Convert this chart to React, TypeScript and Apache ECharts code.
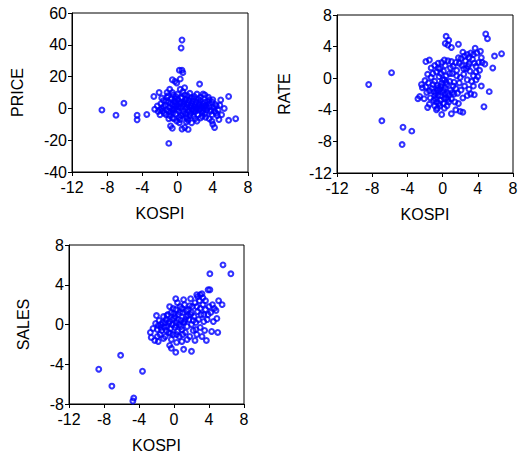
import React, { useEffect, useRef } from "react";
import * as echarts from "echarts";

const xTicks = [-12, -8, -4, 0, 4, 8];

const pricePoints: number[][] = [
  [-8.6, -1], [-7.0, -4.3], [-6.1, 3.3], [-4.6, -4.3], [-4.6, -7.2], [-3.5, -3.8],
  [0.5, 43], [0.4, 38], [0.2, 24], [0.5, 24], [0.6, 22.5], [0.3, 18.5], [-0.3, 17], [-0.6, 18], [-0.1, 16],
  [2.5, 15.3], [-1.0, -22], [6.6, -6.5], [5.8, -7.5], [5.8, 7.5], [4.9, 5.3], [4.2, -12], [4.0, -10],
  [4.7, -7], [5.3, 0], [-2.7, 7.5], [-2.6, -0.5], [-2.0, -4], [-2.1, 10], [-0.8, -11], [-0.6, -12.5],
  [0.5, -13], [1.2, -13.2], [0.8, -12],
  [0.8, 13], [-0.9, 12], [-1.2, 10], [-0.5, 8.5], [1.1, 8], [2.2, 9], [2.9, 9], [3.1, 8.5], [3.5, 7],
  [3.9, 4], [4.4, 1.5], [4.6, -1], [4.3, 2.5], [5.0, -4], [3.6, -6.5], [3.9, -8], [2.8, -5], [2.2, -8],
  [1.6, -9], [1.0, -8.5], [0.2, -9], [-0.6, -6], [-1.0, -6.5], [-1.3, -4], [-1.7, -1.5], [-1.9, 3],
  [-2.3, 1.5], [-1.6, 5], [-1.2, 7], [-0.3, 6],
  [-1.4, 2], [-1.2, -1], [-1.0, 4], [-0.9, 0.5], [-0.8, -2.5], [-0.7, 6], [-0.6, 2.5], [-0.5, -1],
  [-0.4, 4.5], [-0.3, 0], [-0.2, -3.5], [-0.1, 2], [0, 5.5], [0.1, -1.5], [0.2, 3], [0.3, 0.5],
  [0.4, -4.5], [0.5, 6.5], [0.6, 1.5], [0.7, -2], [0.8, 4], [0.9, 0], [1.0, -5.5], [1.1, 2.5],
  [1.2, -1], [1.3, 5], [1.4, 0.5], [1.5, -3], [1.6, 3], [1.7, -0.5], [1.8, 6], [1.9, 1], [2.0, -2],
  [2.1, 4], [2.2, 0], [2.3, -4], [2.4, 2], [2.5, -1], [2.6, 5], [2.7, 1], [2.8, -2.5], [2.9, 3],
  [3.0, 0], [3.1, -3.5], [3.2, 2], [3.3, -1], [3.4, 4.5], [3.6, 1], [3.7, -2], [3.9, -4], [4.1, 0.5],
  [4.4, -3], [-1.5, -3], [-0.9, -4.5], [-0.4, -6.5], [0.3, -7], [1.1, -6.5], [1.8, -5], [2.6, -6],
  [3.2, -5.5], [-1.8, 0], [-2.2, -2], [-1.1, 8], [0.0, 9], [0.6, 10.5], [1.4, 9.5], [1.9, 7.5],
  [2.6, 7], [-0.2, 7.5], [0.4, 7], [1.0, 6], [1.6, 1.5], [0.9, -3.5], [0.1, 1], [-0.6, -0.5],
  [0.5, 3.5], [1.3, -2], [2.1, -0.8], [2.9, -1.5], [3.6, 3], [4.0, 5.5], [4.8, 2],
  [-1.3, 4.5], [-0.8, 3], [-0.4, 1.5], [0, -0.5], [0.3, 4], [0.7, 2.8], [1.0, 0.8], [1.2, 3.5],
  [1.5, 1.8], [1.8, -1.5], [2.0, 2.5], [2.3, 1], [2.6, -0.3], [3.0, 1.5], [3.3, 0.5], [0.6, -3.5],
  [1.4, -4.5], [-0.5, -2.5], [-1.0, -1.8], [-0.2, 3.8], [0.9, 5.3], [1.7, 4.5], [2.4, 3.5], [3.1, 3.8],
  [3.8, -1], [4.2, -1.8], [4.5, -4.5], [-1.6, 1], [-2.0, -0.8], [0.2, -5.5], [1.2, -7.5], [2.0, -6.5],
  [-0.1, -8], [0.8, 8.5], [-0.6, 10], [0.3, 12], [1.6, 6.8], [2.4, 5.8], [3.6, 5.5], [-1.8, 6.5],
];

const ratePoints: number[][] = [
  [-8.4, -0.8], [-5.8, 0.7], [-6.9, -5.4], [-4.5, -6.2], [-3.5, -6.7], [-4.6, -8.4],
  [0.4, 5.3], [0.7, 4.8], [0.3, 4.4], [0.6, 4.2], [1.0, 3.9], [1.8, 4.3], [4.9, 5.6], [5.1, 5.0],
  [6.7, 3.1], [5.9, 2.8], [5.7, 1.3], [5.3, -1.7], [4.7, -3.6], [4.4, -1.0], [-0.1, -4.6], [1.0, -4.5],
  [2.0, -4.2], [2.3, -4.3], [1.5, -4.0], [-1.7, -3.7], [-2.6, -2.3], [-2.3, -1.2], [-1.9, 2.1],
  [-1.5, 2.3], [-0.6, -3.8], [-0.3, -3.5], [-0.7, -4.0],
  [2.3, 3.3], [2.8, 3.0], [3.2, 3.2], [3.5, 3.0], [3.7, 3.8], [3.9, 3.2], [4.3, 3.4], [4.1, 2.0],
  [4.5, 2.0], [4.8, 1.8], [2.1, 2.5], [2.6, 2.2], [3.0, 1.8], [3.4, 2.4], [3.8, 1.5], [4.2, 1.0],
  [3.8, 0.8], [2.2, 1.6], [2.7, 1.2], [3.1, 0.9], [3.5, 0.3], [1.5, 2.0], [1.9, 1.9], [1.2, 1.5],
  [1.6, 1.0], [2.4, 0.5], [2.0, 0.1], [2.8, -0.2], [3.3, -0.4], [3.8, -0.2], [1.0, 2.1], [0.6, 2.2],
  [0.2, 2.3], [-0.1, 2.0], [-0.5, 1.9], [-0.9, 1.6], [-1.3, 1.3], [-0.7, 0.8], [-0.2, 0.6], [0.4, 0.3],
  [1.1, 0.6], [1.6, 0.3], [2.5, -1.0], [3.0, -1.4], [3.6, -2.1], [3.2, -2.0], [2.3, -2.5], [2.8, -2.2],
  [1.7, -1.9],
  [-2.4, -0.8], [-2.0, -0.3], [-1.8, -1.8], [-1.6, -0.6], [-1.4, -2.5], [-1.3, 0.1], [-1.2, -1.3],
  [-1.0, -2.8], [-0.9, -0.4], [-0.8, -1.9], [-0.7, -3.0], [-0.6, -0.9], [-0.5, -2.2], [-0.4, 0.2],
  [-0.3, -1.4], [-0.2, -2.8], [-0.1, -0.6], [0, -1.8], [0.1, -3.2], [0.2, -0.2], [0.3, -1.2],
  [0.4, -2.5], [0.5, -0.8], [0.6, -1.9], [0.7, -3.0], [0.8, -0.4], [0.9, -1.5], [1.0, -2.6],
  [1.2, -1.0], [1.3, -2.0], [1.4, -3.0], [-2.1, -2.6], [-1.5, -3.3], [-0.9, -3.5], [0.2, -3.8],
  [0.6, -2.7], [1.8, -3.2], [-1.1, 0.6], [-0.3, 1.2], [0.1, 0.9], [-2.8, -2.6], [-1.9, -1.1],
  [-0.6, -1.5], [0.3, -2.0], [-0.2, -1.0], [-1.0, -1.7], [0.8, 0.6], [1.5, -1.3],
  [-0.5, -1.2], [-0.2, -2.2], [0.1, -1.5], [0.4, -0.5], [0.7, -2.2], [-0.8, -2.6], [-1.1, -0.8],
  [-0.4, -3.2], [0.5, -3.5], [1.1, -1.8], [0.0, -0.2], [-1.5, -1.6], [-0.9, -2.2], [0.2, -2.6],
  [2.5, 2.8], [3.0, 2.6], [2.9, 1.5], [3.6, 1.9], [4.4, 2.6], [2.4, 1.2], [1.8, 2.6], [0.9, 1.3],
  [0.3, 1.6], [-0.5, 1.3], [1.3, -0.5], [2.1, -1.5], [1.9, -0.6], [3.5, -1.0], [4.0, 0.2], [-1.7, 0.5],
];

const salesPoints: number[][] = [
  [-8.6, -4.5], [-7.1, -6.2], [-6.1, -3.1], [-4.6, -7.4], [-4.7, -7.7], [-3.6, -4.7],
  [5.6, 6.0], [6.5, 5.1], [4.1, 5.1], [5.1, 2.4], [5.5, 2.0], [3.9, 3.5], [4.1, 3.5], [3.2, 3.1],
  [3.0, 3.0], [2.6, 3.0], [4.3, -0.7], [5.0, -0.8], [3.7, -1.6], [2.0, -2.7], [1.1, -2.5], [0.2, -2.8],
  [-0.3, -2.4], [-0.5, -2.1], [0.9, -1.7], [-2.7, -0.8], [-2.0, 0.9], [-1.8, -1.7], [0.2, 2.6],
  [-2.6, -1.3], [-2.2, -1.6],
  [-2.1, 0.1], [-1.9, -0.5], [-1.7, 0.4], [-1.6, -1.0], [-1.5, 0.0], [-1.4, -0.6], [-1.2, 0.8],
  [-1.1, -0.3], [-1.0, -1.2], [-0.9, 0.5], [-0.8, -0.2], [-0.7, 1.0], [-0.6, -0.8], [-0.5, 0.3],
  [-0.4, -0.4], [-0.3, 1.2], [-0.2, 0.0], [-0.1, -1.0], [0, 0.6], [0.1, -0.3], [0.2, 1.5], [0.3, 0.2],
  [0.4, -0.7], [0.5, 1.0], [0.6, 0.0], [0.7, 1.8], [0.8, 0.4], [0.9, -0.5], [1.0, 1.2], [1.1, 0.2],
  [1.2, 2.0], [1.3, -0.8], [1.4, 0.8], [1.5, -0.2], [1.6, 1.5], [1.7, 0.5], [1.8, -1.2], [1.9, 1.0],
  [2.0, 0.0], [2.1, 1.8], [2.2, -0.6], [2.3, 0.8], [2.4, 2.2], [2.5, 0.2], [2.6, -1.0], [2.7, 1.3],
  [2.8, 0.5], [2.9, 2.4], [3.0, -0.3], [3.1, 1.0], [3.3, 2.0], [3.4, 0.3], [3.6, 1.5], [3.8, 0.5],
  [4.0, 1.8], [4.2, 1.2], [4.4, 2.0], [4.8, 1.4], [4.9, 0.6], [4.5, 0.3], [3.2, -1.2], [2.4, -1.6],
  [1.5, -1.5], [0.6, -1.2], [-0.3, -1.5], [-1.2, -1.4], [-0.5, 1.8], [0.4, 2.2], [1.1, 2.5],
  [1.9, 2.6], [2.7, 2.8], [0.9, 1.6], [0, 1.1], [-0.8, 0.9], [1.3, 0.5], [2.0, 1.2], [0.3, -1.8],
  [-1.0, 0.2], [3.5, -0.6],
  [-0.6, 0.1], [-0.2, 0.5], [0.2, -0.1], [0.5, 0.5], [0.8, -0.2], [1.2, 0.3], [1.6, 0.9], [0.1, 0.8],
  [-0.4, -0.9], [-1.3, 0.2], [-1.8, -0.1], [0.7, 1.2], [1.4, 1.4], [2.2, 0.4], [2.6, 1.8], [3.0, 1.6],
  [3.4, 1.0], [-0.9, -0.6], [0.3, -1.0], [1.0, -1.0], [-1.5, -0.3], [-0.1, 1.6], [1.8, 1.9], [2.5, -0.5],
  [3.9, 1.0], [4.6, 1.6], [-2.4, -0.4], [-1.9, -1.2], [3.3, 2.7], [3.6, 2.4],
];

const FONT = "'Liberation Sans', Arial, sans-serif";

const panels = [
  { name: "PRICE", data: pricePoints, yMin: -40, yMax: 60, yInt: 20, grid: { left: 72, top: 13, width: 176, height: 159 }, yGap: 47 },
  { name: "RATE", data: ratePoints, yMin: -12, yMax: 8, yInt: 4, grid: { left: 337, top: 15, width: 176, height: 158 }, yGap: 45 },
  { name: "SALES", data: salesPoints, yMin: -8, yMax: 8, yInt: 4, grid: { left: 69, top: 245, width: 175, height: 159 }, yGap: 38 },
];

export default function App() {
  const ref = useRef<HTMLDivElement>(null);
  useEffect(() => {
    if (!ref.current) return;
    const chart = echarts.init(ref.current, undefined, { renderer: "svg" });
    const axisCommon = {
      axisLine: { show: true, onZero: false, lineStyle: { color: "#000", width: 1 } },
      axisTick: { show: true, inside: false, length: 4, lineStyle: { color: "#000" } },
      splitLine: { show: false },
      axisLabel: { color: "#000", fontSize: 16, fontFamily: FONT },
      nameTextStyle: { color: "#000", fontSize: 16, fontFamily: FONT },
    };
    chart.setOption({
      animation: false,
      grid: panels.map((p) => ({ ...p.grid, show: true, borderColor: "#000", borderWidth: 1, backgroundColor: "transparent" })),
      xAxis: panels.map((p, i) => ({
        ...axisCommon,
        type: "value",
        gridIndex: i,
        min: xTicks[0],
        max: xTicks[xTicks.length - 1],
        interval: 4,
        name: "KOSPI",
        nameLocation: "middle",
        nameGap: 33,
        axisLabel: { ...axisCommon.axisLabel, margin: 7 },
      })),
      yAxis: panels.map((p, i) => ({
        ...axisCommon,
        type: "value",
        gridIndex: i,
        min: p.yMin,
        max: p.yMax,
        interval: p.yInt,
        name: p.name,
        nameLocation: "middle",
        nameGap: p.yGap,
        axisLabel: { ...axisCommon.axisLabel, margin: 5 },
      })),
      series: panels.map((p, i) => ({
        type: "scatter",
        xAxisIndex: i,
        yAxisIndex: i,
        data: p.data,
        symbol: "circle",
        symbolSize: 4.8,
        itemStyle: { color: "rgba(0,0,0,0)", borderColor: "#0000ff", borderWidth: 2.1 },
        emphasis: { disabled: true },
      })),
    });
    return () => chart.dispose();
  }, []);
  return <div ref={ref} style={{ position: "absolute", left: 0, top: 0, width: 525, height: 456 }} />;
}
